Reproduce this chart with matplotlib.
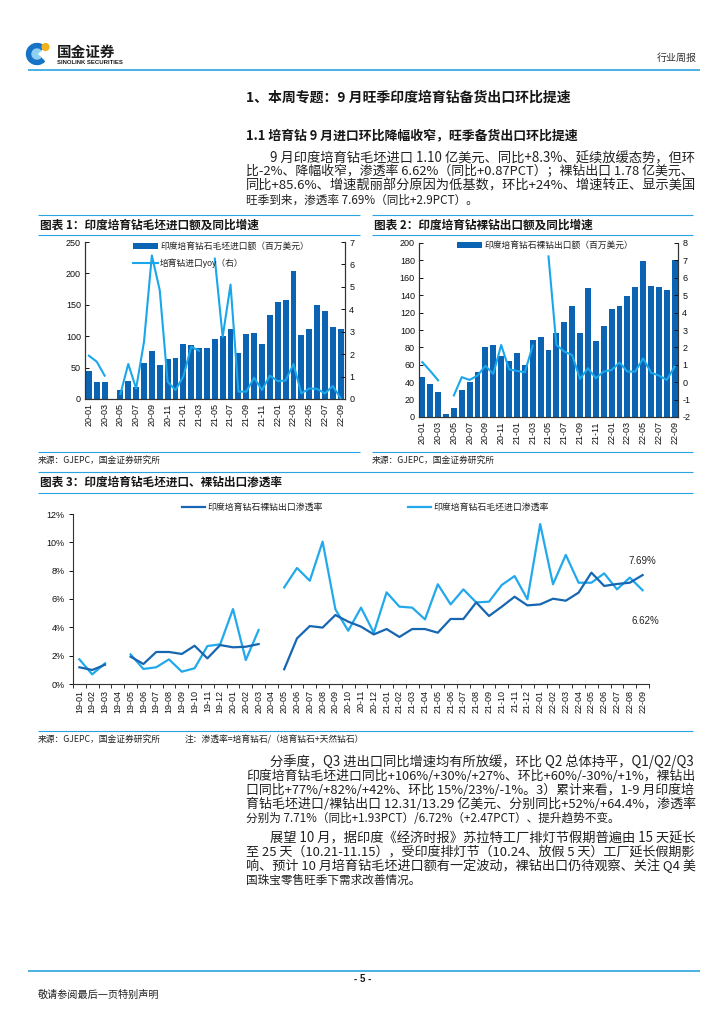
import numpy as np
import matplotlib
matplotlib.use('Agg')
import matplotlib.pyplot as plt
from matplotlib.patches import Wedge, Circle, Rectangle, Patch
from matplotlib.lines import Line2D
from matplotlib.ticker import FuncFormatter

W, H = 724, 1024
CJK = 'Noto Sans CJK SC'
LAT = 'Liberation Sans'
plt.rcParams['font.family'] = [LAT, CJK, 'DejaVu Sans']
plt.rcParams['axes.unicode_minus'] = False

nan = np.nan

# ---------------- data ----------------
months_a = [f'{y}-{m:02d}' for y in (20, 21, 22) for m in range(1, 13)][:33]
months_b = [f'{y}-{m:02d}' for y in (19, 20, 21, 22) for m in range(1, 13)][:45]

rough_import = [44, 26.5, 26.5, nan, 14, 28.5, 19.5, 57, 76, 54, 64, 66,
                87, 86, 80.5, 81.5, 96, 101, 112, 74, 103, 105, 87, 133.5,
                155, 157, 204, 102, 112, 149, 140, 115, 112]
rough_yoy = [1.93, 1.66, 1.04, nan, 0.22, 1.56, 0.47, 2.55, 6.4, 4.85, 0.77, 0.4,
             1.0, 2.33, 2.15, nan, 6.26, 2.77, 5.1, 0.33, 0.33, 0.95, 0.4, 1.04,
             0.8, 0.82, 1.56, 0.25, 0.47, 0.45, 0.25, 0.58, 0.03]

cut_export = [45.8, 38, 28.6, 3, 10, 31, 40.5, 51.5, 81, 83, 70.6, 64,
              73, 60, 88, 92, 77, 97, 109, 128, 97, 148, 87, 105,
              124, 128, 139, 150, 179, 151, 149, 145.5, 180]
cut_yoy = [1.15, 0.65, 0.11, nan, -0.76, 0.29, 0.13, 0.38, 0.94, 0.48, 2.14, 0.74,
           0.65, 0.57, 2.1, nan, 7.23, 2.14, 1.76, 1.56, 0.19, 0.8, 0.23, 0.61,
           0.7, 1.13, 0.61, 0.61, 1.37, 0.55, 0.38, 0.13, 0.9]

cut_pen = [1.18, 0.99, 1.36, nan, 1.93, 1.41, 2.26, 2.26, 2.12, 2.7, 1.81, 2.75,
           2.59, 2.63, 2.82, nan, 1.04, 3.22, 4.09, 3.98, 4.87, 4.4, 4.05, 3.5,
           3.88, 3.32, 3.88, 3.88, 3.62, 4.59, 4.59, 5.76, 4.8, 5.46, 6.16, 5.55,
           5.62, 6.02, 5.88, 6.45, 7.86, 6.92, 7.06, 7.15, 7.69]
rough_pen = [1.74, 0.68, 1.46, nan, 2.09, 1.06, 1.18, 1.74, 0.87, 1.11, 2.68, 2.8,
             5.29, 1.69, 3.81, nan, 6.82, 8.19, 7.29, 10.05, 5.27, 3.76, 5.39, 3.62,
             6.47, 5.46, 5.39, 4.56, 7.04, 5.62, 6.68, 5.76, 5.81, 6.99, 7.62, 5.98,
             11.29, 7.04, 9.11, 7.15, 7.15, 7.81, 6.68, 7.51, 6.62]

# ---------------- colours ----------------
BAR = '#0b63b3'
LINE = '#1aa7ea'
DARK = '#1666b2'
LIGHT = '#22a9ec'
RULE = '#2aa3e2'
TXT = '#161616'

fig = plt.figure(figsize=(7.24, 10.24), dpi=100)
ov = fig.add_axes([0, 0, 1, 1])
ov.set_xlim(0, W)
ov.set_ylim(H, 0)
ov.axis('off')
R = fig.canvas.get_renderer()


def rect(l, t, r, b):
    return [l / W, 1 - b / H, (r - l) / W, (b - t) / H]


def hline(x0, x1, y, lw=0.8, c=RULE):
    ov.plot([x0, x1], [y, y], color=c, lw=lw, solid_capstyle='butt')


def put(x, y, s, size, weight='normal', right=None, ha='left', color=TXT, maxadj=0.15,
        family=None):
    t = ov.text(x, y, s, fontsize=size, family=family or [CJK, 'DejaVu Sans'],
                va='center', ha=ha, weight=weight, color=color)
    if right is not None:
        w = t.get_window_extent(renderer=R).width
        f = (right - x) / w
        f = min(max(f, 1 - maxadj), 1 + maxadj)
        t.set_fontsize(size * f)
    return t


# ---------------- header ----------------
ov.add_patch(Wedge((37, 54), 10.5, 45, 315, width=5.5, color='#1673c6'))
ov.add_patch(Wedge((37, 54), 5.0, 45, 315, color='#8fd0f2'))
ov.add_patch(Circle((45.5, 47), 3.4, color='#f3b21b'))
put(57, 52, '国金证券', 10.5, weight='bold', color='#1a1a1a')
put(57, 62.5, 'SINOLINK SECURITIES', 4.3, weight='bold', color='#1a1a1a', family=[LAT])
put(697, 58, '行业周报', 7.2, ha='right', color='#333333')
hline(28, 700, 70, lw=1.2)

put(246, 98, '1、本周专题：9 月旺季印度培育钻备货出口环比提速', 10, weight='bold')
put(246, 135, '1.1 培育钻 9 月进口环比降幅收窄，旺季备货出口环比提速', 9.3, weight='bold')

BODY = 8.4
RIGHT = 694
para1 = [
    ('9 月印度培育钻毛坯进口 1.10 亿美元、同比+8.3%、延续放缓态势，但环', True, True),
    ('比-2%、降幅收窄，渗透率 6.62%（同比+0.87PCT）；裸钻出口 1.78 亿美元、', False, True),
    ('同比+85.6%、增速靓丽部分原因为低基数，环比+24%、增速转正、显示美国', False, True),
    ('旺季到来，渗透率 7.69%（同比+2.9PCT）。', False, False),
]
para2 = [
    ('分季度，Q3 进出口同比增速均有所放缓，环比 Q2 总体持平，Q1/Q2/Q3', True, True),
    ('印度培育钻毛坯进口同比+106%/+30%/+27%、环比+60%/-30%/+1%，裸钻出', False, True),
    ('口同比+77%/+82%/+42%、环比 15%/23%/-1%。3）累计来看，1-9 月印度培', False, True),
    ('育钻毛坯进口/裸钻出口 12.31/13.29 亿美元、分别同比+52%/+64.4%，渗透率', False, True),
    ('分别为 7.71%（同比+1.93PCT）/6.72%（+2.47PCT）、提升趋势不变。', False, False),
]
para3 = [
    ('展望 10 月，据印度《经济时报》苏拉特工厂排灯节假期普遍由 15 天延长', True, True),
    ('至 25 天（10.21-11.15），受印度排灯节（10.24、放假 5 天）工厂延长假期影', False, True),
    ('响、预计 10 月培育钻毛坯进口额有一定波动，裸钻出口仍待观察、关注 Q4 美', False, True),
    ('国珠宝零售旺季下需求改善情况。', False, False),
]


def paragraph(lines, y0, step=14.0):
    for i, (s, indent, just) in enumerate(lines):
        x = 270 if indent else 246
        put(x, y0 + i * step, s, BODY, right=RIGHT if just else None, color='#202020')


paragraph(para1, 158)
paragraph(para2, 762)
paragraph(para3, 838)

# ---------------- chart frames / titles ----------------
for (x0, x1) in [(38, 360), (372, 693)]:
    hline(x0, x1, 215)
    hline(x0, x1, 235)
    hline(x0, x1, 452)
put(40, 225, '图表 1：印度培育钻毛坯进口额及同比增速', 8.4, weight='bold')
put(374, 225, '图表 2：印度培育钻裸钻出口额及同比增速', 8.4, weight='bold')
put(38, 460.5, '来源：GJEPC，国金证券研究所', 6.3, color='#222222')
put(372, 460.5, '来源：GJEPC，国金证券研究所', 6.3, color='#222222')

hline(38, 693, 472)
hline(38, 693, 493)
hline(38, 693, 731)
put(40, 482, '图表 3：印度培育钻毛坯进口、裸钻出口渗透率', 8.4, weight='bold')
put(38, 739.5, '来源：GJEPC，国金证券研究所', 6.3, color='#222222')
put(185, 739.5, '注：渗透率=培育钻石/（培育钻石+天然钻石）', 6.3, color='#222222')

# footer
hline(28, 700, 971, lw=1.2)
put(363, 979, '- 5 -', 7, weight='bold', ha='center', family=[LAT])
put(38, 995, '敬请参阅最后一页特别声明', 7.3, color='#222222')

TICK_FS = 6.5


def style_bar_axes(ax, axr):
    for a in (ax, axr):
        a.set_facecolor('none')
        a.spines['top'].set_visible(False)
        for s in ('left', 'right', 'bottom'):
            a.spines[s].set_color('#333333')
            a.spines[s].set_linewidth(0.8)
    ax.tick_params(axis='y', direction='in', length=3, width=0.7, labelsize=TICK_FS, pad=3,
                   colors='#111111')
    axr.tick_params(axis='y', direction='in', length=3, width=0.7, labelsize=TICK_FS, pad=3,
                    colors='#111111')
    ax.tick_params(axis='x', length=0, labelsize=TICK_FS, pad=3, colors='#111111')
    axr.tick_params(axis='x', length=0)


# ---------------- chart 1 ----------------
ax1 = fig.add_axes(rect(85, 242, 345, 399))
x1 = np.arange(len(months_a))
ax1.bar(x1, np.nan_to_num(rough_import), width=0.74, color=BAR, zorder=2)
ax1.set_ylim(0, 250)
ax1.set_yticks(np.arange(0, 251, 50))
ax1.set_xlim(-0.5, 32.55)
ax1.set_xticks(x1[::2])
ax1.set_xticklabels(months_a[::2], rotation=90)
ax1r = ax1.twinx()
ax1r.plot(x1, rough_yoy, color=LINE, lw=1.5, zorder=3)
ax1r.set_ylim(0, 7)
ax1r.set_yticks(np.arange(0, 8, 1))
style_bar_axes(ax1, ax1r)
h1 = [Patch(facecolor=BAR, edgecolor='none'), Line2D([], [], color=LINE, lw=1.5)]
leg1 = ax1r.legend(h1, ['印度培育钻石毛坯进口额（百万美元）', '培育钻进口yoy（右）'],
                   loc='upper left', bbox_to_anchor=(133 / W, 1 - 242 / H),
                   bbox_transform=fig.transFigure, frameon=False, fontsize=6.3,
                   handlelength=2.8, handleheight=0.7, handletextpad=0.3,
                   labelspacing=0.85, borderpad=0, borderaxespad=0)
for t in leg1.get_texts():
    t.set_color('#222222')

# ---------------- chart 2 ----------------
ax2 = fig.add_axes(rect(419, 243, 678, 417))
x2 = np.arange(len(months_a))
ax2.bar(x2, cut_export, width=0.74, color=BAR, zorder=2)
ax2.set_ylim(0, 200)
ax2.set_yticks(np.arange(0, 201, 20))
ax2.set_xlim(-0.42, 32.42)
ax2.set_xticks(x2[::2])
ax2.set_xticklabels(months_a[::2], rotation=90)
ax2r = ax2.twinx()
ax2r.plot(x2, cut_yoy, color=LINE, lw=1.5, zorder=3)
ax2r.set_ylim(-2, 8)
ax2r.set_yticks(np.arange(-2, 9, 1))
style_bar_axes(ax2, ax2r)
leg2 = ax2r.legend([Patch(facecolor=BAR, edgecolor='none')], ['印度培育钻石裸钻出口额（百万美元）'],
                   loc='upper left', bbox_to_anchor=(457 / W, 1 - 241 / H),
                   bbox_transform=fig.transFigure, frameon=False, fontsize=6.3,
                   handlelength=2.8, handleheight=0.7, handletextpad=0.3,
                   borderpad=0, borderaxespad=0)
for t in leg2.get_texts():
    t.set_color('#222222')

# ---------------- chart 3 ----------------
ax3 = fig.add_axes(rect(73, 514, 649, 684))
ax3.set_facecolor('none')
x3 = np.arange(len(months_b))
ax3.plot(x3, cut_pen, color=DARK, lw=1.6, label='印度培育钻石裸钻出口渗透率', zorder=3)
ax3.plot(x3, rough_pen, color=LIGHT, lw=1.6, label='印度培育钻石毛坯进口渗透率', zorder=2)
ax3.set_ylim(0, 12)
ax3.set_yticks(np.arange(0, 13, 2))
ax3.yaxis.set_major_formatter(FuncFormatter(lambda v, p: f'{v:.0f}%'))
ax3.set_xlim(-0.5, 44.5)
ax3.set_xticks(x3)
ax3.set_xticklabels(months_b, rotation=90)
ax3.set_xticks(np.arange(-0.5, 45, 1), minor=True)
ax3.tick_params(axis='x', which='major', length=0, labelsize=TICK_FS, pad=4, colors='#111111')
ax3.tick_params(axis='x', which='minor', length=3, width=0.7, direction='out', color='#333333')
ax3.tick_params(axis='y', length=3, width=0.7, direction='out', labelsize=TICK_FS, pad=3,
                colors='#111111')
for s in ('top', 'right'):
    ax3.spines[s].set_visible(False)
for s in ('left', 'bottom'):
    ax3.spines[s].set_color('#333333')
    ax3.spines[s].set_linewidth(0.8)
leg3 = ax3.legend(loc='center left', bbox_to_anchor=(182 / W, 1 - 507.5 / H),
                  bbox_transform=fig.transFigure, ncol=2, frameon=False, fontsize=6.4,
                  handlelength=2.6, handletextpad=0.25, columnspacing=9.6,
                  borderpad=0, borderaxespad=0)
for t in leg3.get_texts():
    t.set_color('#222222')
ax3.text(44.0, 8.68, f'{cut_pen[-1]:.2f}%', fontsize=7, ha='center', va='center',
         color='#222222', clip_on=False)
ax3.text(44.25, 4.45, f'{rough_pen[-1]:.2f}%', fontsize=7, ha='center', va='center',
         color='#222222', clip_on=False)

fig.savefig('out.png', dpi=100)
